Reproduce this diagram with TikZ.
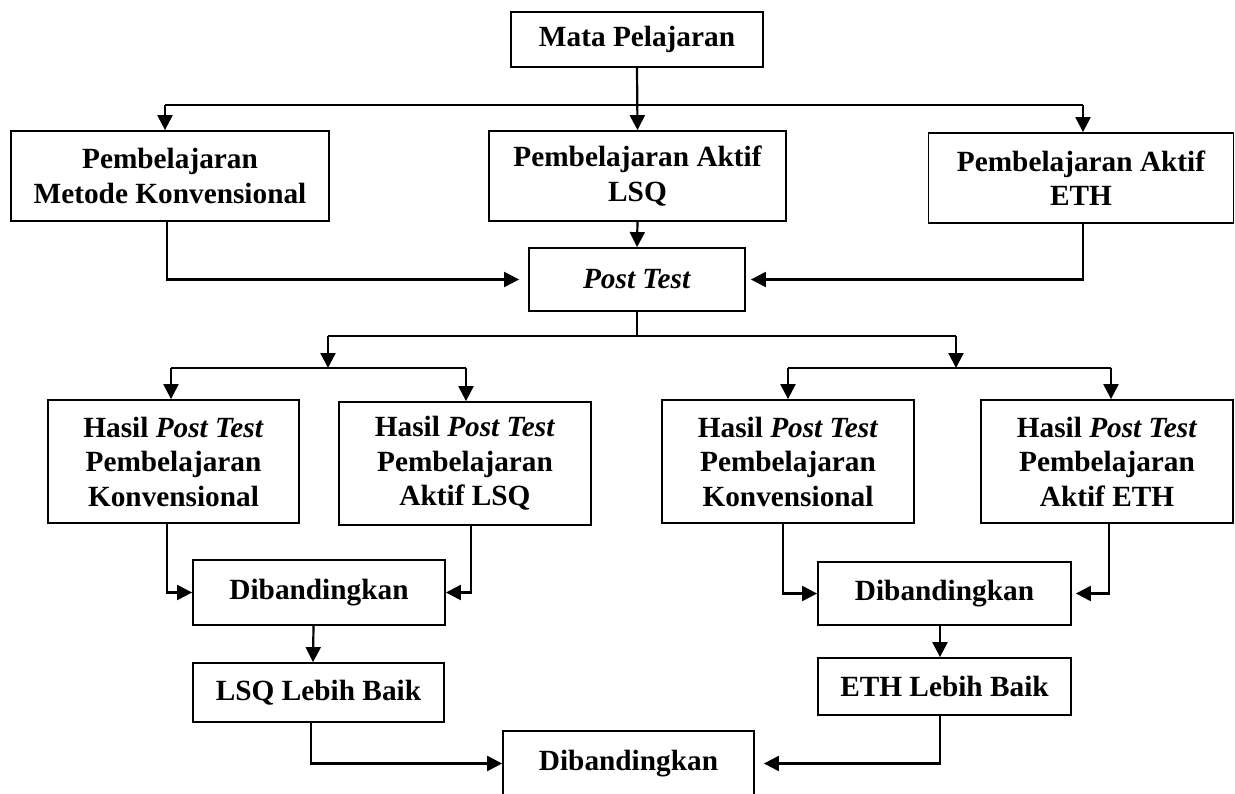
\documentclass[tikz,border=0pt]{standalone}
\usepackage{fontspec}
\setmainfont{Liberation Serif}
\usetikzlibrary{arrows.meta,calc}
\begin{document}
\begin{tikzpicture}[x=1pt,y=-1pt,
  box/.style={draw, line width=1.8pt, inner sep=0pt, align=center,
    font=\fontsize{29.3}{34.5}\selectfont\bfseries, fill=white},
  arr/.style={line width=2.2pt, -{Triangle[length=15pt 0,width=15pt 0]}},
  ln/.style={line width=2.2pt}]
\useasboundingbox (0,0) rectangle (1235,793);
\clip (0,0) rectangle (1235,793);
\fill[white] (0,0) rectangle (1235,793);

% boxes
\node[box, minimum width=252pt, minimum height=55pt] (mata) at (637,39.5) {Mata Pelajaran};
\node[box, minimum width=318pt, minimum height=90pt] (konv) at (170,176) {Pembelajaran\\Metode Konvensional};
\node[box, minimum width=297pt, minimum height=90pt] (lsq) at (637.5,176) {Pembelajaran Aktif\\LSQ};
\node[box, minimum width=305pt, minimum height=90pt] (eth) at (1081,178) {Pembelajaran Aktif\\ETH};
\node[box, minimum width=216pt, minimum height=63pt] (post) at (637,279.5) {\textit{Post Test}};

\node[box, minimum width=251pt, minimum height=123pt] (h1) at (173.5,461.5) {Hasil \textit{Post Test}\\Pembelajaran\\Konvensional};
\node[box, minimum width=252pt, minimum height=123pt] (h2) at (465,463.5) {Hasil \textit{Post Test}\\Pembelajaran\\Aktif LSQ};
\node[box, minimum width=252pt, minimum height=123pt] (h3) at (788,461.5) {Hasil \textit{Post Test}\\Pembelajaran\\Konvensional};
\node[box, minimum width=252pt, minimum height=123pt] (h4) at (1107,461.5) {Hasil \textit{Post Test}\\Pembelajaran\\Aktif ETH};

\node[box, minimum width=252pt, minimum height=65pt] (d1) at (319,592.5) {Dibandingkan};
\node[box, minimum width=253pt, minimum height=63pt] (d2) at (944.5,593.5) {Dibandingkan};
\node[box, minimum width=251pt, minimum height=59pt] (lsqb) at (318.5,692.5) {LSQ Lebih Baik};
\node[box, minimum width=253pt, minimum height=57pt] (ethb) at (944.5,686.5) {ETH Lebih Baik};
\node[box, minimum width=251pt, minimum height=65pt] (dfin) at (628.5,763.5) {Dibandingkan};

% junction coordinates
\coordinate (jL) at (165,105);
\coordinate (jR) at (1083,105);
\coordinate (pM) at (637,336);
\coordinate (pL) at (328,336);
\coordinate (pR) at (956,336);
\coordinate (qL) at (328,368);
\coordinate (qR) at (956,368);
\coordinate (qL1) at (171,368);
\coordinate (qL2) at (466,368);
\coordinate (qR1) at (788,368);
\coordinate (qR2) at (1111,368);

% top level
\draw[arr] (mata.south) -- (lsq.north);
\draw[ln] (jL) -- (jR);
\draw[arr] (jL) -- (jL |- konv.north);
\draw[arr] (jR) -- (jR |- eth.north);

% into post test
\draw[arr] (lsq.south) -- (post.north);
\draw[arr, shorten >=9pt] ([xshift=-3pt]konv.south) |- (post.west);
\draw[arr, shorten >=5pt] ([xshift=2pt]eth.south) |- (post.east);

% post test branches
\draw[ln] (post.south) -- (pM);
\draw[ln] (pL) -- (pR);
\draw[arr] (pL) -- (qL);
\draw[arr] (pR) -- (qR);
\draw[ln] (qL1) -- (qL2);
\draw[ln] (qR1) -- (qR2);
\draw[arr] (qL1) -- (qL1 |- h1.north);
\draw[arr] (qL2) -- (qL2 |- h2.north);
\draw[arr] (qR1) -- (qR1 |- h3.north);
\draw[arr] (qR2) -- (qR2 |- h4.north);

% into comparisons
\draw[arr] ([xshift=-6.5pt]h1.south) |- (d1.west);
\draw[arr] ([xshift=6pt]h2.south) |- (d1.east);
\draw[arr] ([xshift=-5pt]h3.south) |- (d2.west);
\draw[arr, shorten >=4pt] ([xshift=2pt]h4.south) |- (d2.east);

% results
\draw[arr] ([xshift=-5.5pt]d1.south) -- ([xshift=-5.5pt]lsqb.north);
\draw[arr] ([xshift=-4.5pt]d2.south) -- ([xshift=-4.5pt]ethb.north);

% final comparison
\draw[arr] ([xshift=-7.5pt]lsqb.south) |- (dfin.west);
\draw[arr, shorten >=9pt] ([xshift=-4.5pt]ethb.south) |- (dfin.east);
\end{tikzpicture}
\end{document}
